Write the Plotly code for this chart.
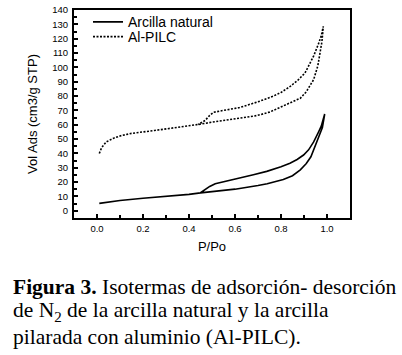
import plotly.graph_objects as go

# Arcilla natural (solid): adsorption then desorption branch
nat_ads_p = [0.01, 0.05, 0.1, 0.2, 0.3, 0.4, 0.45, 0.5, 0.6, 0.7, 0.74, 0.81, 0.85, 0.884, 0.91, 0.93, 0.956, 0.97, 0.98, 0.99]
nat_ads_v = [5.2, 6.3, 7.2, 8.8, 10.0, 11.5, 12.5, 13.2, 15.1, 17.6, 18.9, 21.9, 24.5, 28.6, 33.0, 37.7, 48.0, 53.0, 58.0, 67.5]
nat_des_p = [0.99, 0.975, 0.963, 0.942, 0.92, 0.898, 0.87, 0.839, 0.8, 0.738, 0.68, 0.593, 0.55, 0.514, 0.49, 0.47, 0.45]
nat_des_v = [67.5, 59.0, 54.9, 48.0, 42.5, 38.9, 35.8, 33.2, 30.7, 27.5, 25.2, 21.9, 20.4, 18.9, 17.0, 14.5, 12.6]

# Al-PILC (dotted)
pilc_ads_p = [0.01, 0.02, 0.04, 0.07, 0.1, 0.15, 0.25, 0.35, 0.44, 0.5, 0.55, 0.62, 0.695, 0.75, 0.81, 0.85, 0.884, 0.91, 0.942, 0.96, 0.97, 0.978, 0.984]
pilc_ads_v = [40.0, 44.0, 48.0, 50.5, 52.2, 54.0, 56.0, 58.0, 60.2, 61.8, 63.0, 64.7, 66.4, 68.8, 73.0, 76.0, 78.5, 83.0, 91.5, 101.0, 110.0, 118.0, 128.6]
pilc_des_p = [0.984, 0.975, 0.962, 0.942, 0.92, 0.904, 0.876, 0.84, 0.8, 0.767, 0.7, 0.62, 0.55, 0.507, 0.49, 0.47, 0.44]
pilc_des_v = [128.6, 122.0, 116.0, 108.0, 101.0, 96.0, 91.5, 86.7, 82.5, 80.0, 76.0, 72.0, 70.0, 68.7, 66.5, 63.0, 60.2]

x_ticks = [0.0, 0.2, 0.4, 0.6, 0.8, 1.0]
y_ticks = list(range(0, 141, 10))

x_range = [-0.1, 1.1]
y_range = [-5, 140]

caption_lines = [
    "<b>Figura 3.</b> Isotermas de adsorción- desorción",
    "de N<sub>2</sub> de la arcilla natural y la arcilla",
    "pilarada con aluminio (Al-PILC).",
]

plot_top, plot_bottom = 6, 218
ph = plot_bottom - plot_top
pw = 402 - 74 - 52

fig = go.Figure()
fig.add_trace(go.Scatter(
    x=nat_ads_p + nat_des_p, y=nat_ads_v + nat_des_v,
    mode="lines", name="Arcilla natural", legend="legend",
    line=dict(color="black", width=1.6)))
fig.add_trace(go.Scatter(
    x=pilc_ads_p + pilc_des_p, y=pilc_ads_v + pilc_des_v,
    mode="lines", name="Al-PILC", legend="legend2",
    line=dict(color="black", width=1.6, dash="2px,1.5px")))

axis_common = dict(
    showline=True, linecolor="black", linewidth=2, mirror=True,
    ticks="inside", ticklen=4, tickwidth=1.5, tickcolor="black",
    showgrid=False, zeroline=False, automargin=False,
    tickfont=dict(family="Liberation Sans, Arial", size=9.5, color="black"),
)

fig.update_xaxes(
    range=x_range, tickvals=x_ticks, ticktext=[f"{v:.1f}" for v in x_ticks],
    minor=dict(ticks="inside", ticklen=3, tickwidth=1.5, tickcolor="black", dtick=0.1, tick0=0),
    ticklabelstandoff=1,
    title=dict(text="P/Po", font=dict(family="Liberation Sans, Arial", size=13, color="black"), standoff=8),
    **axis_common)
fig.update_yaxes(
    range=y_range, tickvals=y_ticks, ticklabelstandoff=2,
    minor=dict(ticks="inside", ticklen=3, tickwidth=1.5, tickcolor="black", dtick=5, tick0=0),
    title=dict(text="Vol Ads (cm3/g STP)", font=dict(family="Liberation Sans, Arial", size=13, color="black"), standoff=12),
    **axis_common)

annots = []
for i, line in enumerate(caption_lines):
    cy = 288 + i * 25.5
    annots.append(dict(
        xref="paper", yref="paper", x=-0.23, y=(plot_bottom - cy) / ph,
        xanchor="left", yanchor="middle", align="left", showarrow=False,
        text=line,
        font=dict(family="Liberation Serif, Times New Roman", size=21.5, color="black")))

leg_common = dict(xanchor="left", yanchor="middle", bgcolor="rgba(0,0,0,0)", borderwidth=0,
                  font=dict(family="Liberation Sans, Arial", size=14, color="black"), itemwidth=30)

fig.update_layout(
    width=402, height=355,
    margin=dict(l=74, r=52, t=plot_top, b=355 - plot_bottom),
    plot_bgcolor="white", paper_bgcolor="white",
    showlegend=True,
    legend=dict(x=(88 - 74) / pw, y=(plot_bottom - 18.5) / ph, **leg_common),
    legend2=dict(x=(88 - 74) / pw, y=(plot_bottom - 33.5) / ph, **leg_common),
    annotations=annots,
)

fig.write_html("out.html", config={"displayModeBar": False},
               post_script="document.body.style.margin='0';document.body.style.overflow='hidden';")
